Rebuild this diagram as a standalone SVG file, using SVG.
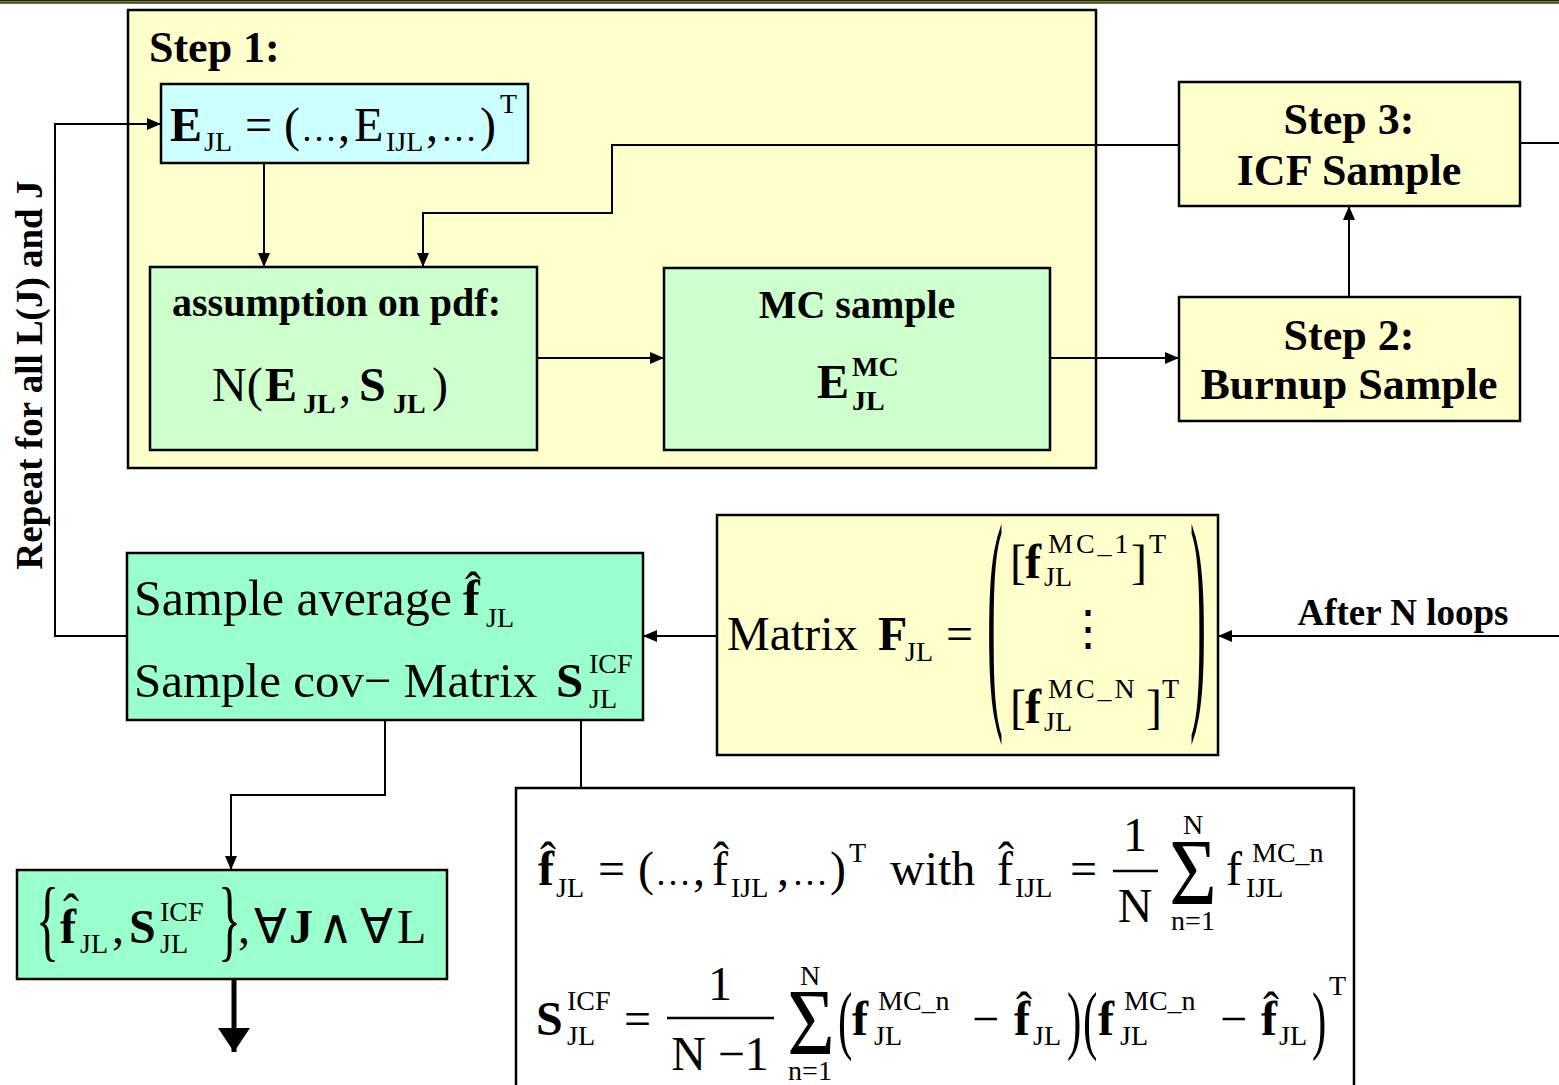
<svg xmlns="http://www.w3.org/2000/svg" width="1559" height="1085" viewBox="0 0 1559 1085">
<defs>
<marker id="ah" markerUnits="userSpaceOnUse" markerWidth="14" markerHeight="12" refX="14" refY="6" orient="auto"><path d="M0,0 L14,6 L0,12 z" fill="#000"/></marker>
<marker id="ahb" markerUnits="userSpaceOnUse" markerWidth="26" markerHeight="32" refX="24" refY="16" orient="auto"><path d="M0,0 L24,16 L0,32 z" fill="#000"/></marker>
<style>
.box{stroke:#000;stroke-width:2.5}
.y{fill:#ffffcc}.c{fill:#ccffff}.g{fill:#ccffcc}.t{fill:#99ffcc}.w{fill:#ffffff}
.lbl{font-family:"Liberation Serif","Times New Roman",serif;font-weight:bold;font-size:40px;fill:#000}
.st{font-size:44px}
.m{font-family:"Liberation Serif","Times New Roman",serif;font-size:48px;fill:#000}
.s{font-size:28px;font-weight:normal}
.sb{font-size:28px;font-weight:bold}
.b{font-weight:bold}
.e{font-size:36px}
.con{fill:none;stroke:#000;stroke-width:2}
</style>
</defs>
<rect x="0" y="0" width="1559" height="3.5" fill="#7a7a20"/>
<line x1="0" y1="0.5" x2="1559" y2="0.5" stroke="#222" stroke-width="1"/>
<line x1="0" y1="3" x2="1559" y2="3" stroke="#222" stroke-width="1"/>

<g id="step1">
<rect class="box y" x="128" y="10" width="968" height="458"/>
<text class="lbl st" x="149" y="62">Step 1:</text>
</g>

<g id="ejl">
<rect class="box c" x="161" y="84" width="367" height="79"/>
<text class="m"><tspan class="b" x="170" y="141">E</tspan><tspan class="s" x="204" y="151">JL</tspan><tspan x="245" y="141">=</tspan><tspan x="284" y="141">(</tspan><tspan class="e" x="301" y="141">…</tspan><tspan x="338" y="141">,</tspan><tspan x="354" y="141">E</tspan><tspan class="s" x="386" y="151">IJL</tspan><tspan x="426" y="141">,</tspan><tspan class="e" x="441" y="141">…</tspan><tspan x="480" y="141">)</tspan><tspan class="s" x="500" y="113">T</tspan></text>
</g>

<g id="assumption">
<rect class="box g" x="150" y="267" width="387" height="183"/>
<text class="lbl" x="172" y="316">assumption on pdf:</text>
<text class="m"><tspan x="212" y="401">N(</tspan><tspan class="b" x="265" y="401">E</tspan><tspan class="sb" x="303" y="413">JL</tspan><tspan x="339" y="401">,</tspan><tspan class="b" x="359" y="401">S</tspan><tspan class="sb" x="393" y="413">JL</tspan><tspan x="432" y="401">)</tspan></text>
</g>

<g id="mcsample">
<rect class="box g" x="664" y="268" width="386" height="182"/>
<text class="lbl" x="857" y="318" text-anchor="middle">MC sample</text>
<text class="m"><tspan class="b" x="817" y="398">E</tspan><tspan class="sb" x="852" y="376">MC</tspan><tspan class="sb" x="852" y="410">JL</tspan></text>
</g>

<g id="step3">
<rect class="box y" x="1179" y="82" width="341" height="124"/>
<text class="lbl st" x="1349" y="134" text-anchor="middle">Step 3:</text>
<text class="lbl st" x="1349" y="185" text-anchor="middle">ICF Sample</text>
</g>

<g id="step2">
<rect class="box y" x="1179" y="297" width="341" height="124"/>
<text class="lbl st" x="1349" y="350" text-anchor="middle">Step 2:</text>
<text class="lbl st" x="1349" y="399" text-anchor="middle">Burnup Sample</text>
</g>

<g id="repeat">
<text class="lbl" style="font-size:37px" text-anchor="middle" transform="translate(42,375) rotate(-90)">Repeat for all L(J) and J</text>
</g>

<g id="afterN">
<text class="lbl" style="font-size:37px" x="1403" y="625" text-anchor="middle">After N loops</text>
</g>

<g id="matrix">
<rect class="box y" x="717" y="515" width="501" height="240"/>
<text class="m"><tspan x="727" y="650">Matrix</tspan><tspan class="b" x="878" y="650">F</tspan><tspan class="s" x="905" y="661">JL</tspan><tspan x="946" y="650">=</tspan></text>
<text class="m" transform="translate(987,693) scale(1,5.1)">(</text>
<text class="m" transform="translate(1190,693) scale(1,5.1)">)</text>
<text class="m"><tspan x="1010" y="578">[</tspan><tspan class="b" x="1025" y="578">f</tspan><tspan class="s" x="1048" y="553" letter-spacing="3">MC_1</tspan><tspan class="s" x="1044" y="586">JL</tspan><tspan x="1131" y="578">]</tspan><tspan class="s" x="1149" y="553">T</tspan></text>
<text class="m" x="1088" y="645" text-anchor="middle">⋮</text>
<text class="m"><tspan x="1010" y="723">[</tspan><tspan class="b" x="1025" y="723">f</tspan><tspan class="s" x="1048" y="698" letter-spacing="3">MC_N</tspan><tspan class="s" x="1044" y="731">JL</tspan><tspan x="1146" y="723">]</tspan><tspan class="s" x="1162" y="698">T</tspan></text>
</g>

<g id="sampleavg">
<rect class="box t" x="127" y="553" width="516" height="167"/>
<text class="m" style="font-size:50px"><tspan x="134" y="615">Sample average</tspan><tspan class="b" x="463" y="615">f</tspan><tspan class="s" x="486" y="627">JL</tspan></text>
<text class="m" x="465" y="606">ˆ</text>
<text class="m" style="font-size:49px"><tspan x="134" y="697">Sample cov− Matrix</tspan><tspan class="b" x="556" y="697">S</tspan><tspan class="s" x="589" y="673">ICF</tspan><tspan class="s" x="589" y="708">JL</tspan></text>
</g>

<g id="result">
<rect class="box t" x="17" y="870" width="430" height="109"/>
<text class="m" transform="translate(36,950) scale(1,1.9)">{</text>
<text class="m" x="63" y="928">ˆ</text>
<text class="m"><tspan class="b" x="60" y="943">f</tspan><tspan class="s" x="80" y="953">JL</tspan><tspan x="112" y="943">,</tspan><tspan class="b" x="129" y="943">S</tspan><tspan class="s" x="160" y="921">ICF</tspan><tspan class="s" x="160" y="953">JL</tspan></text>
<text class="m" transform="translate(218,950) scale(1,1.9)">}</text>
<text class="m"><tspan x="238" y="943">,</tspan><tspan x="254" y="943">∀</tspan><tspan class="b" x="289" y="943">J</tspan><tspan x="318" y="943">∧</tspan><tspan x="360" y="943">∀</tspan><tspan x="397" y="943">L</tspan></text>
</g>

<g id="formulas">
<rect class="box w" x="516" y="788" width="838" height="310"/>
<text class="m" x="540" y="876">ˆ</text>
<text class="m"><tspan class="b" x="538" y="885">f</tspan><tspan class="s" x="556" y="897">JL</tspan><tspan x="598" y="885">=</tspan><tspan x="638" y="885">(</tspan><tspan class="e" x="655" y="885">…</tspan><tspan x="693" y="885">,</tspan><tspan x="712" y="885">f</tspan><tspan class="s" x="731" y="897">IJL</tspan><tspan x="777" y="885">,</tspan><tspan class="e" x="792" y="885">…</tspan><tspan x="830" y="885">)</tspan><tspan class="s" x="849" y="862">T</tspan><tspan x="890" y="885">with</tspan><tspan x="997" y="885">f</tspan><tspan class="s" x="1015" y="897">IJL</tspan><tspan x="1070" y="885">=</tspan></text>
<text class="m" x="713" y="876">ˆ</text>
<text class="m" x="998" y="876">ˆ</text>
<text class="m" x="1135" y="851" text-anchor="middle">1</text>
<line x1="1113" y1="871" x2="1158" y2="871" stroke="#000" stroke-width="2.5"/>
<text class="m" x="1135" y="922" text-anchor="middle">N</text>
<text class="m" style="font-size:96px" text-anchor="middle" transform="translate(1193,905) scale(0.85,1)">Σ</text>
<text class="m s" x="1193" y="834" text-anchor="middle">N</text>
<text class="m s" x="1193" y="930" text-anchor="middle">n=1</text>
<text class="m"><tspan x="1226" y="885">f</tspan><tspan class="s" x="1252" y="862">MC_n</tspan><tspan class="s" x="1246" y="897">IJL</tspan></text>

<text class="m"><tspan class="b" x="536" y="1035">S</tspan><tspan class="s" x="567" y="1010">ICF</tspan><tspan class="s" x="567" y="1045">JL</tspan><tspan x="624" y="1035">=</tspan></text>
<text class="m" x="720" y="1000" text-anchor="middle">1</text>
<line x1="667" y1="1018" x2="774" y2="1018" stroke="#000" stroke-width="2.5"/>
<text class="m" x="720" y="1070" text-anchor="middle">N −1</text>
<text class="m" style="font-size:96px" text-anchor="middle" transform="translate(811,1055) scale(0.85,1)">Σ</text>
<text class="m s" x="810" y="985" text-anchor="middle">N</text>
<text class="m s" x="810" y="1080" text-anchor="middle">n=1</text>
<text class="m" transform="translate(838,1045) scale(0.9,1.6)">(</text>
<text class="m"><tspan class="b" x="852" y="1035">f</tspan><tspan class="s" x="878" y="1010">MC_n</tspan><tspan class="s" x="874" y="1045">JL</tspan><tspan x="972" y="1035">−</tspan><tspan class="b" x="1014" y="1035">f</tspan><tspan class="s" x="1033" y="1045">JL</tspan></text>
<text class="m" x="1016" y="1026">ˆ</text>
<text class="m" transform="translate(1067,1045) scale(0.9,1.6)">)</text>
<text class="m" transform="translate(1083,1045) scale(0.9,1.6)">(</text>
<text class="m"><tspan class="b" x="1098" y="1035">f</tspan><tspan class="s" x="1124" y="1010">MC_n</tspan><tspan class="s" x="1120" y="1045">JL</tspan><tspan x="1220" y="1035">−</tspan><tspan class="b" x="1261" y="1035">f</tspan><tspan class="s" x="1279" y="1045">JL</tspan></text>
<text class="m" x="1263" y="1026">ˆ</text>
<text class="m" transform="translate(1312,1045) scale(0.9,1.6)">)</text>
<text class="m s" x="1329" y="995">T</text>
</g>

<g id="connectors">
<polyline class="con" points="127,636 55,636 55,124 161,124" marker-end="url(#ah)"/>
<line class="con" x1="264" y1="163" x2="264" y2="267" marker-end="url(#ah)"/>
<polyline class="con" points="1179,145 612,145 612,213 423,213 423,267" marker-end="url(#ah)"/>
<line class="con" x1="537" y1="358" x2="664" y2="358" marker-end="url(#ah)"/>
<line class="con" x1="1050" y1="358" x2="1179" y2="358" marker-end="url(#ah)"/>
<line class="con" x1="1349" y1="297" x2="1349" y2="206" marker-end="url(#ah)"/>
<line class="con" x1="1520" y1="143" x2="1559" y2="143"/>
<line class="con" x1="1559" y1="636" x2="1218" y2="636" marker-end="url(#ah)"/>
<line class="con" x1="717" y1="636" x2="643" y2="636" marker-end="url(#ah)"/>
<polyline class="con" points="385,720 385,795 231,795 231,870" marker-end="url(#ah)"/>
<line class="con" x1="581" y1="720" x2="581" y2="788"/>
<line x1="234" y1="979" x2="234" y2="1052" stroke="#000" stroke-width="5" marker-end="url(#ahb)"/>
</g>
</svg>
